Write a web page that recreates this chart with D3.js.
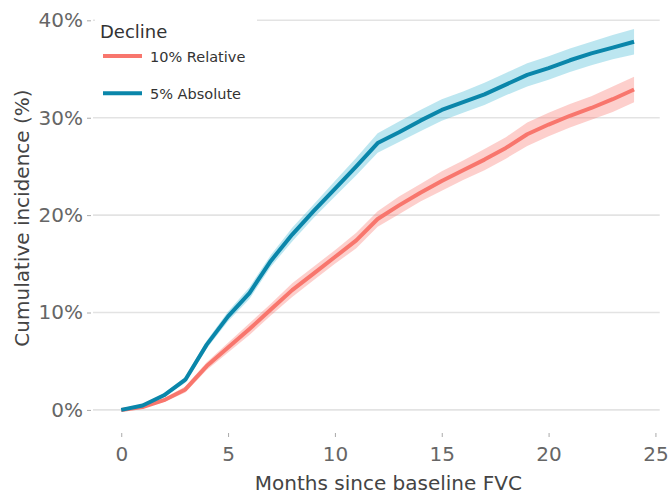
<!DOCTYPE html>
<html>
<head>
<meta charset="utf-8">
<script src="https://cdn.jsdelivr.net/npm/d3@7"></script>
<style>
  html, body { margin: 0; padding: 0; background: #fff; }
  svg { display: block; font-family: "DejaVu Sans", Verdana, sans-serif; }
</style>
</head>
<body>
<svg id="chart" width="669" height="494"></svg>
<script>
// ---- data ----
const months = [0,1,2,3,4,5,6,7,8,9,10,11,12,13,14,15,16,17,18,19,20,21,22,23,24];

const relativeMean  = [0,0.3,1.0,2.1,4.5,6.4,8.3,10.3,12.3,14.0,15.7,17.4,19.6,21.0,22.3,23.5,24.6,25.7,26.9,28.3,29.3,30.2,31.0,31.9,32.9];
const relativeLower = [0,0.2,0.8,1.8,4.1,5.9,7.7,9.7,11.6,13.3,15.0,16.6,18.8,20.1,21.4,22.5,23.6,24.6,25.8,27.1,28.1,29.0,29.8,30.6,31.6];
const relativeUpper = [0,0.4,1.2,2.4,4.9,6.9,8.9,10.9,13.0,14.7,16.4,18.2,20.4,21.9,23.2,24.5,25.6,26.8,28.0,29.5,30.5,31.4,32.2,33.2,34.2];

const absoluteMean  = [0,0.45,1.5,3.1,6.7,9.6,12.0,15.3,18.0,20.4,22.7,25.0,27.4,28.5,29.7,30.8,31.6,32.4,33.4,34.4,35.1,35.9,36.6,37.2,37.8];
const absoluteLower = [0,0.35,1.3,2.8,6.3,9.1,11.4,14.7,17.3,19.7,21.9,24.1,26.4,27.5,28.6,29.7,30.5,31.3,32.3,33.2,33.9,34.7,35.4,36.0,36.5];
const absoluteUpper = [0,0.55,1.7,3.4,7.1,10.1,12.6,15.9,18.7,21.1,23.5,25.9,28.4,29.6,30.8,31.9,32.7,33.6,34.6,35.6,36.3,37.1,37.8,38.5,39.1];

const seriesNames = ["10% Relative", "5% Absolute"];
const legendTitle = "Decline";
const xTicks = [0,5,10,15,20,25];
const yTicks = [0,10,20,30,40];
const xTitle = "Months since baseline FVC";
const yTitle = "Cumulative incidence (%)";

// ---- build ----
const series = [
  { name: seriesNames[0], mean: relativeMean, lower: relativeLower, upper: relativeUpper, line: "#f8766d", band: "#f8766d" },
  { name: seriesNames[1], mean: absoluteMean, lower: absoluteLower, upper: absoluteUpper, line: "#0a86aa", band: "#3fb6d3" }
];

const svg = d3.select("#chart");
const panel = { left: 95.6, right: 659.7, top: 10, bottom: 429 };

const x = d3.scaleLinear().domain([-1.2, 25.2]).range([panel.left, panel.right]);
const y = d3.scaleLinear().domain([-1.96, 41.06]).range([panel.bottom, panel.top]);

// gridlines
svg.append("g").selectAll("line").data(yTicks).join("line")
  .attr("x1", 93).attr("x2", panel.right)
  .attr("y1", d => y(d)).attr("y2", d => y(d))
  .attr("stroke", "#e3e3e3").attr("stroke-width", 1.6);

// y axis
const yAxis = d3.axisLeft(y).tickValues(yTicks).tickFormat(d => d + "%").tickSize(4).tickPadding(4);
const gy = svg.append("g").attr("transform", `translate(91,0)`).call(yAxis);
gy.select(".domain").remove();
gy.selectAll(".tick line").attr("stroke", "#aaa").attr("stroke-width", 1);
gy.selectAll(".tick text").attr("fill", "#666").attr("font-size", 20)
  .attr("font-family", "DejaVu Sans, sans-serif");

// x axis
const xAxis = d3.axisBottom(x).tickValues(xTicks).tickSize(4).tickPadding(10);
const gx = svg.append("g").attr("transform", `translate(0,433)`).call(xAxis);
gx.select(".domain").remove();
gx.selectAll(".tick line").attr("stroke", "#aaa").attr("stroke-width", 1);
gx.selectAll(".tick text").attr("fill", "#666").attr("font-size", 20)
  .attr("font-family", "DejaVu Sans, sans-serif");

// axis titles
svg.append("text").attr("x", (x(0) + x(25)) / 2).attr("y", 490)
  .attr("text-anchor", "middle").attr("fill", "#444").attr("font-size", 20)
  .text(xTitle);
svg.append("text").attr("transform", `translate(29,218) rotate(-90)`)
  .attr("text-anchor", "middle").attr("fill", "#444").attr("font-size", 20)
  .text(yTitle);

// bands and lines
const area = d3.area()
  .x((d, i) => x(months[i]))
  .y0(d => y(d[0])).y1(d => y(d[1]));
const line = d3.line()
  .x((d, i) => x(months[i]))
  .y(d => y(d));

series.forEach(s => {
  const pairs = s.lower.map((v, i) => [v, s.upper[i]]);
  svg.append("path").datum(pairs).attr("d", area)
    .attr("fill", s.band).attr("fill-opacity", 0.35).attr("stroke", "none");
});
series.forEach(s => {
  svg.append("path").datum(s.mean).attr("d", line)
    .attr("fill", "none").attr("stroke", s.line).attr("stroke-width", 4)
    .attr("stroke-linejoin", "round");
});

// legend
const lg = svg.append("g");
lg.append("rect").attr("x", 95).attr("y", 12).attr("width", 162).attr("height", 100).attr("fill", "#fff");
lg.append("text").attr("x", 100).attr("y", 37.5).attr("fill", "#333").attr("font-size", 18).text(legendTitle);
series.forEach((s, i) => {
  const cy = 56 + i * 37.3;
  lg.append("line").attr("x1", 103).attr("x2", 142).attr("y1", cy).attr("y2", cy)
    .attr("stroke", s.line).attr("stroke-width", 4);
  lg.append("text").attr("x", 150).attr("y", cy + 6).attr("fill", "#333").attr("font-size", 14.5).text(s.name);
});
</script>
</body>
</html>
